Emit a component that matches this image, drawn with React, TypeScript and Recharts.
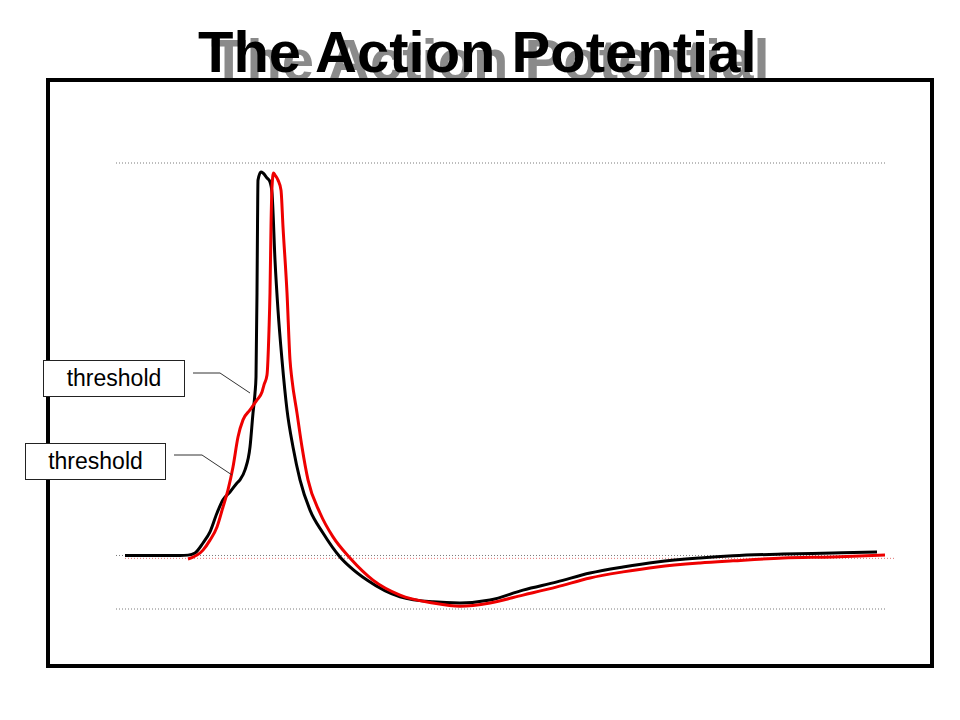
import { LineChart, Line, XAxis, YAxis, ReferenceLine } from "recharts";

// time in ms, membrane potential in mV
const blackTime = [0.09, 0.64, 0.72, 0.79, 0.87, 0.94, 1.01, 1.07, 1.14, 1.21, 1.24, 1.29, 1.34, 1.37, 1.39, 1.4, 1.41, 1.415, 1.42, 1.45, 1.47, 1.51, 1.54, 1.56, 1.59, 1.62, 1.66, 1.71, 1.77, 1.84, 1.94, 2.07, 2.24, 2.34, 2.51, 2.84, 3.17, 3.44, 3.74, 4.07, 4.41, 4.74, 5.07, 5.41, 5.84, 6.17, 6.67, 7.17, 7.61];
const blackMv = [-70, -70, -69.9, -69.3, -66.5, -63.4, -58.1, -54.4, -52.2, -49.7, -48.8, -46.0, -39.6, -30.1, -24.5, -20, 3.6, 22.1, 35.2, 37.5, 37.2, 35.8, 34.7, 31.6, 12.8, -1.2, -15.2, -29.2, -39.6, -48.8, -57.3, -63.7, -70.4, -73.2, -76.9, -81.6, -83.0, -83.3, -82.5, -79.7, -77.4, -74.9, -73.2, -71.8, -70.7, -70.1, -69.6, -69.3, -69.0];

const redTime = [0.72, 0.87, 0.94, 1.01, 1.07, 1.12, 1.17, 1.22, 1.27, 1.34, 1.41, 1.46, 1.48, 1.51, 1.53, 1.54, 1.55, 1.56, 1.575, 1.59, 1.62, 1.65, 1.67, 1.71, 1.74, 1.76, 1.81, 1.86, 1.92, 2.04, 2.17, 2.34, 2.57, 2.84, 3.17, 3.44, 3.74, 4.07, 4.41, 4.74, 5.07, 5.41, 5.84, 6.17, 6.67, 7.17, 7.69];
const redMv = [-71.0, -68.5, -65.7, -62.0, -56.4, -51.6, -45.2, -36.8, -32.0, -29.2, -26.4, -24.2, -22.2, -19.4, -6.8, 3.6, 22.1, 33.3, 37.2, 36.6, 35.2, 32.4, 22.1, 3.6, -15.2, -20.8, -30.1, -39.6, -48.8, -58.1, -64.8, -70.7, -76.9, -81.1, -83.3, -84.2, -83.3, -81.1, -78.8, -76.3, -74.6, -73.2, -72.1, -71.5, -70.7, -70.4, -69.9];

const grayLevels = [40, -70, -85];
const grayStart = 0;
const grayEnd = 7.7;
const redLevel = -70.8;
const redStart = 0.09;
const redEnd = 7.79;

const title = "The Action Potential";
const labels = ["threshold", "threshold"];

const black = blackTime.map((t, i) => ({ t, v: blackMv[i] }));
const red = redTime.map((t, i) => ({ t, v: redMv[i] }));

const font = "'Liberation Sans', Arial, sans-serif";

const labelBoxes = [
  { left: 43, top: 360, width: 142, height: 37 },
  { left: 25, top: 443, width: 141, height: 37 },
];

export default function App() {
  return (
    <div style={{ position: "absolute", left: 0, top: 0, width: 960, height: 720, background: "#fff", overflow: "hidden" }}>
      <div
        style={{
          position: "absolute",
          left: 198,
          top: 23,
          fontFamily: font,
          fontWeight: "bold",
          fontSize: 58,
          lineHeight: "58px",
          whiteSpace: "nowrap",
          color: "#000",
          textShadow: "13px 8px 0 #8a8a8a",
        }}
      >
        {title}
      </div>
      <div
        style={{
          position: "absolute",
          left: 46,
          top: 78,
          width: 880,
          height: 582,
          border: "4px solid #000",
          background: "#fff",
        }}
      />
      <div style={{ position: "absolute", left: 0, top: 0 }}>
        <LineChart width={960} height={720} margin={{ top: 163, left: 116, right: 44, bottom: 111 }}>
          <XAxis type="number" dataKey="t" domain={[0, 8]} hide allowDataOverflow />
          <YAxis type="number" dataKey="v" domain={[-85, 40]} hide allowDataOverflow />
          {grayLevels.map((lv) => (
            <ReferenceLine
              key={lv}
              segment={[
                { x: grayStart, y: lv },
                { x: grayEnd, y: lv },
              ]}
              stroke="#7a7a7a"
              strokeWidth={1}
              strokeDasharray="1 2"
            />
          ))}
          <ReferenceLine
            segment={[
              { x: redStart, y: redLevel },
              { x: redEnd, y: redLevel },
            ]}
            stroke="#e07070"
            strokeWidth={1}
            strokeDasharray="1 2"
          />
          <Line data={black} dataKey="v" type="monotone" stroke="#000" strokeWidth={3} dot={false} isAnimationActive={false} />
          <Line data={red} dataKey="v" type="monotone" stroke="#ee0000" strokeWidth={3} dot={false} isAnimationActive={false} />
        </LineChart>
      </div>
      <svg width={960} height={720} style={{ position: "absolute", left: 0, top: 0, pointerEvents: "none" }}>
        <polyline points="193,373 220,373 250,393" fill="none" stroke="#333" strokeWidth={1} />
        <polyline points="174,455 202,455 232,475" fill="none" stroke="#333" strokeWidth={1} />
      </svg>
      {labelBoxes.map((b, i) => (
        <div
          key={i}
          style={{
            position: "absolute",
            left: b.left,
            top: b.top,
            width: b.width - 2,
            height: b.height - 2,
            border: "1px solid #222",
            background: "#fff",
            display: "flex",
            alignItems: "center",
            justifyContent: "center",
            fontFamily: font,
            fontSize: 23,
            color: "#000",
          }}
        >
          {labels[i]}
        </div>
      ))}
    </div>
  );
}
